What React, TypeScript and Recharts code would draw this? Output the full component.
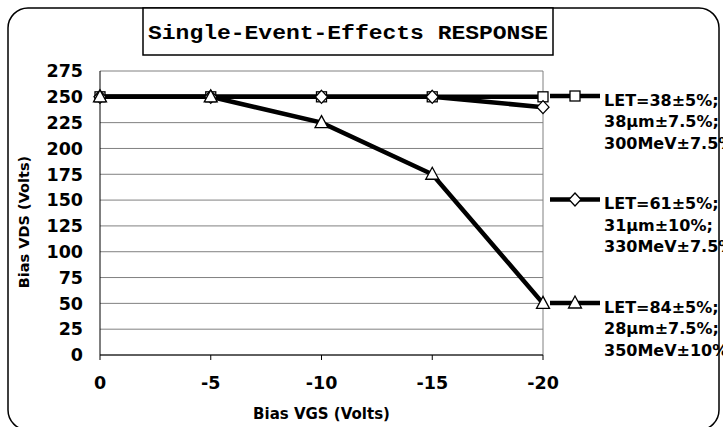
import React from 'react';
import { LineChart, Line, XAxis, YAxis, CartesianGrid, Legend } from 'recharts';

const vgsLabels = ['0', '-5', '-10', '-15', '-20'];
const let38 = [250, 250, 250, 250, 250];
const let61 = [250, 250, 250, 250, 240];
const let84 = [250, 250, 225, 175, 50];
const yTicks = [0, 25, 50, 75, 100, 125, 150, 175, 200, 225, 250, 275];
const seriesKeys = ['s38', 's61', 's84'];
const seriesNames = [
  'LET=38±5%;|38µm±7.5%;|300MeV±7.5%',
  'LET=61±5%;|31µm±10%;|330MeV±7.5%',
  'LET=84±5%;|28µm±7.5%;|350MeV±10%',
];
const title = 'Single-Event-Effects RESPONSE';

const data = vgsLabels.map((v, i) => ({ vgs: v, s38: let38[i], s61: let61[i], s84: let84[i] }));

const W = 723;
const H = 427;
const FONT = '"DejaVu Sans", sans-serif';

function Marker({ shape, cx, cy }: { shape: string; cx: number; cy: number }) {
  const common = { fill: '#fff', stroke: '#000', strokeWidth: 1.3 };
  if (shape === 's38') {
    return <rect x={cx - 5} y={cy - 5} width={10} height={10} {...common} />;
  }
  if (shape === 's61') {
    return <polygon points={`${cx},${cy - 6.5} ${cx + 6},${cy} ${cx},${cy + 6.5} ${cx - 6},${cy}`} {...common} />;
  }
  return <polygon points={`${cx},${cy - 7} ${cx + 6.5},${cy + 5} ${cx - 6.5},${cy + 5}`} {...common} />;
}

const makeDot = (key: string) => (props: any) => {
  if (props.cx == null || props.cy == null) return <g key={props.index} />;
  return <Marker key={`${key}-${props.index}`} shape={key} cx={props.cx} cy={props.cy} />;
};

const YTick = (props: any) => {
  const { x, y, payload } = props;
  return (
    <text x={x} y={y} dy="0.36em" textAnchor="end" fontFamily={FONT} fontWeight="bold" fontSize={17.5} fill="#000">
      {payload.value}
    </text>
  );
};

const XTick = (props: any) => {
  const { x, y, payload } = props;
  return (
    <text x={x} y={y} dy="0.71em" textAnchor="middle" fontFamily={FONT} fontWeight="bold" fontSize={17.5} fill="#000">
      {payload.value}
    </text>
  );
};

const YLabel = (props: any) => {
  const vb = props.viewBox || {};
  const cx = vb.x - 16;
  const cy = vb.y + vb.height / 2 + 9;
  return (
    <text
      x={cx}
      y={cy}
      dy="0.36em"
      textAnchor="middle"
      transform={`rotate(-90 ${cx} ${cy})`}
      fontFamily={FONT}
      fontWeight="bold"
      fontSize={14.5}
      fill="#000"
    >
      Bias VDS (Volts)
    </text>
  );
};

const XLabel = (props: any) => {
  const vb = props.viewBox || {};
  return (
    <text
      x={vb.x + vb.width / 2}
      y={vb.y + 59}
      dy="0.36em"
      textAnchor="middle"
      fontFamily={FONT}
      fontWeight="bold"
      fontSize={15}
      fill="#000"
    >
      Bias VGS (Volts)
    </text>
  );
};

const LegendContent = (props: any) => {
  const payload = props.payload || [];
  return (
    <svg width={W} height={H} style={{ position: 'absolute', left: 0, top: 0, overflow: 'hidden' }}>
      {payload.map((entry: any, i: number) => {
        const key = String(entry.dataKey);
        const y = 96 + i * 103.5;
        const lines = String(entry.value).split('|');
        return (
          <g key={key}>
            <line x1={550} x2={600} y1={y} y2={y} stroke="#000" strokeWidth={4.5} />
            <Marker shape={key} cx={575} cy={y} />
            {lines.map((t, j) => (
              <text
                key={j}
                x={604}
                y={y + 4 + j * 21.5}
                dy="0.36em"
                fontFamily={FONT}
                fontWeight="bold"
                fontSize={16}
                fill="#000"
              >
                {t}
              </text>
            ))}
          </g>
        );
      })}
    </svg>
  );
};

export default function App() {
  return (
    <div style={{ position: 'absolute', left: 0, top: 0, width: W, height: H, background: '#fff' }}>
      <svg width={W} height={H} style={{ position: 'absolute', left: 0, top: 0 }}>
        <rect x={8} y={8} width={711} height={422} rx={20} ry={20} fill="#fff" stroke="#000" strokeWidth={1.5} />
        <rect x={143} y={8} width={410} height={47} fill="#fff" stroke="#000" strokeWidth={1.5} />
        <text
          x={348}
          y={32}
          dy="0.36em"
          textAnchor="middle"
          fontFamily='"Liberation Mono", monospace'
          fontWeight="bold"
          fontSize={20}
          textLength={400}
          lengthAdjust="spacingAndGlyphs"
          fill="#000"
        >
          {title}
        </text>
      </svg>
      <LineChart width={W} height={H} data={data} margin={{ top: 71, right: 180, bottom: 42, left: 40 }}>
        <CartesianGrid
          stroke="#808080"
          strokeWidth={1}
          vertical={true}
          verticalCoordinatesGenerator={(p: any) => [p.offset.left + p.offset.width]}
        />
        <XAxis
          dataKey="vgs"
          type="category"
          height={30}
          axisLine={{ stroke: '#000', strokeWidth: 1 }}
          tickLine={{ stroke: '#000', strokeWidth: 1 }}
          tickSize={5}
          tickMargin={17}
          tick={XTick}
          interval={0}
          label={XLabel}
        />
        <YAxis
          type="number"
          domain={[0, 275]}
          ticks={yTicks}
          width={60}
          axisLine={{ stroke: '#000', strokeWidth: 1 }}
          tickLine={false}
          tickSize={0}
          tickMargin={17}
          tick={YTick}
          interval={0}
          label={YLabel}
        />
        {seriesKeys.map((k, i) => (
          <Line
            key={k}
            type="linear"
            dataKey={k}
            name={seriesNames[i]}
            stroke="#000"
            strokeWidth={4.5}
            dot={makeDot(k)}
            activeDot={false}
            isAnimationActive={false}
          />
        ))}
        <Legend
          layout="horizontal"
          verticalAlign="middle"
          align="center"
          content={LegendContent}
          wrapperStyle={{ position: 'absolute', left: 0, top: 0, width: W, height: H, pointerEvents: 'none' }}
        />
      </LineChart>
    </div>
  );
}
